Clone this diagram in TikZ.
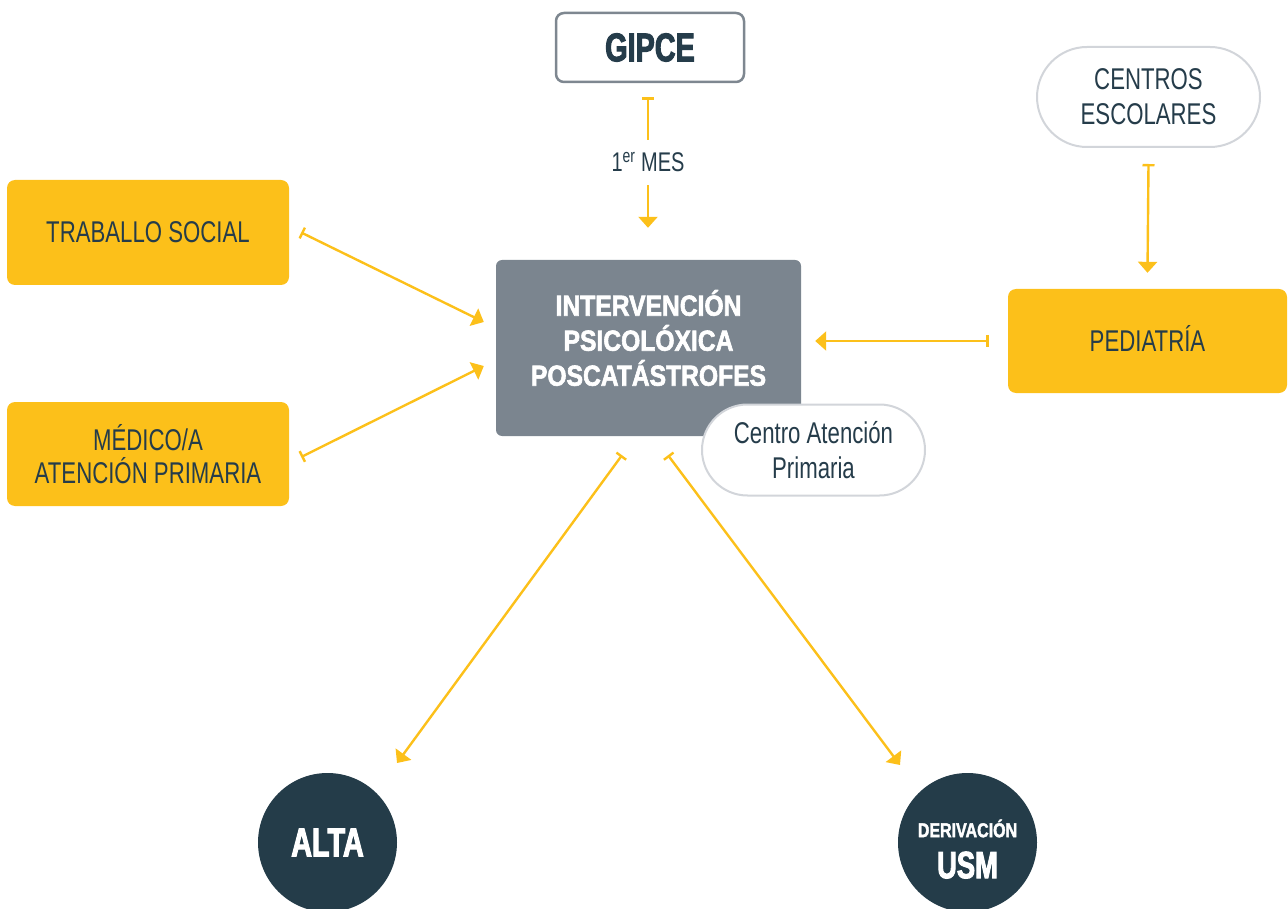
\documentclass[tikz,border=0pt]{standalone}
\usepackage{fontspec}
\setmainfont{Liberation Sans}[FakeStretch=0.74]
\newfontfamily\heavyA{Liberation Sans Bold}[FakeStretch=0.85,FakeBold=2]
\newfontfamily\heavyB{Liberation Sans Bold}[FakeStretch=0.72,FakeBold=2.5]
\newfontfamily\heavyC{Liberation Sans Bold}[FakeStretch=0.8,FakeBold=2]
\usetikzlibrary{arrows.meta,calc}
\definecolor{ylw}{HTML}{FCC01A}
\definecolor{ink}{HTML}{253C4A}
\definecolor{slate}{HTML}{7B858F}
\definecolor{pillgray}{HTML}{D2D5DA}
\definecolor{gbord}{HTML}{7E8790}
\definecolor{navy}{HTML}{243C49}
\tikzset{
  ybox/.style={fill=ylw, rounded corners=8pt, minimum width=282pt, minimum height=104pt,
    inner sep=0pt, align=center, text=ink, font=\fontsize{30}{33}\selectfont},
  pill/.style={draw=pillgray, line width=2pt, fill=white, minimum width=223pt, inner sep=0pt,
    align=center, text=ink, font=\fontsize{30}{35}\selectfont},
  dot/.style={circle, fill=navy, minimum size=139pt, inner sep=0pt, text=white, align=center},
  conn/.style={draw=ylw, line width=2.4pt, {Bar[width=12pt,line width=2.4pt]}-{Triangle[width=19pt,length=11pt]}},
}
\begin{document}
\begin{tikzpicture}[x=1pt,y=-1pt]
\useasboundingbox (0,0) rectangle (1288,909);
% nodes
\node[draw=gbord, line width=2.5pt, fill=white, rounded corners=8pt, minimum width=188pt,
  minimum height=69pt, inner sep=0pt, text=ink, font=\heavyB\fontsize{40}{40}\selectfont] (gipce) at (650,47.5) {GIPCE};
\node[ybox, minimum height=105pt] (ts) at (148,232.5) {TRABALLO SOCIAL};
\node[ybox] (med) at (148,454) {MÉDICO/A\\ATENCIÓN PRIMARIA};
\node[ybox, minimum width=279pt, text height=21.5pt, text depth=0pt] (ped) at (1147.5,341) {PEDIATRÍA};
\node[pill, minimum height=100pt, rounded corners=50pt] (ce) at (1148.5,97) {CENTROS\\ESCOLARES};
\node[fill=slate, rounded corners=6pt, minimum width=305pt, minimum height=176pt, inner sep=0pt] (ctr) at (648.5,348) {};
\node[text=white, align=center, font=\heavyA\fontsize{29}{35}\selectfont, inner sep=0pt] (ctrtxt) at (648.5,338) {INTERVENCIÓN\\PSICOLÓXICA\\POSCATÁSTROFES};
\node[pill, minimum height=91pt, rounded corners=45.5pt] (cap) at (813.5,450) {Centro Atención\\Primaria};
\node[dot, font=\heavyB\fontsize{40}{40}\selectfont] (alta) at (327.5,842.5) {ALTA};
\node[dot] (usm) at (967.5,842.5) {};
\node[text=white, align=center, inner sep=0pt, font=\heavyB\fontsize{38}{41}\selectfont] (usmtxt) at (967.5,849) {{\heavyC\fontsize{20}{20}\selectfont DERIVACIÓN}\\USM};
% connectors
\draw[conn] ($(gipce.south)+(-2,14)$) -- node[fill=white, minimum height=45pt, inner xsep=4pt, inner ysep=0pt,
  text=ink, font=\fontsize{27}{27}\selectfont] (mes) {1\textsuperscript{er} MES} ($(ctr.north)+(-0.5,-32)$);
\draw[conn] ($(ts.east)+(12,0)$) -- ($(ctr.west)+(-12,-26)$);
\draw[conn] ($(med.east)+(12,3)$) -- ($(ctr.west)+(-12,18)$);
\draw[conn] ($(ped.west)+(-19,0)$) -- ($(ctr.east|-ped.west)+(14,0)$);
\draw[conn] ($(ce.south)+(0,16)$) -- ($(ped.north)+(0,-16)$);
\draw[conn] ($(ctr.south)+(-26.5,19)$) -- ($(alta.center)+(69.5,-79.5)$);
\draw[conn] ($(ctr.south)+(19.5,19)$) -- ($(usm.center)+(-67.5,-77.5)$);
\end{tikzpicture}
\end{document}
